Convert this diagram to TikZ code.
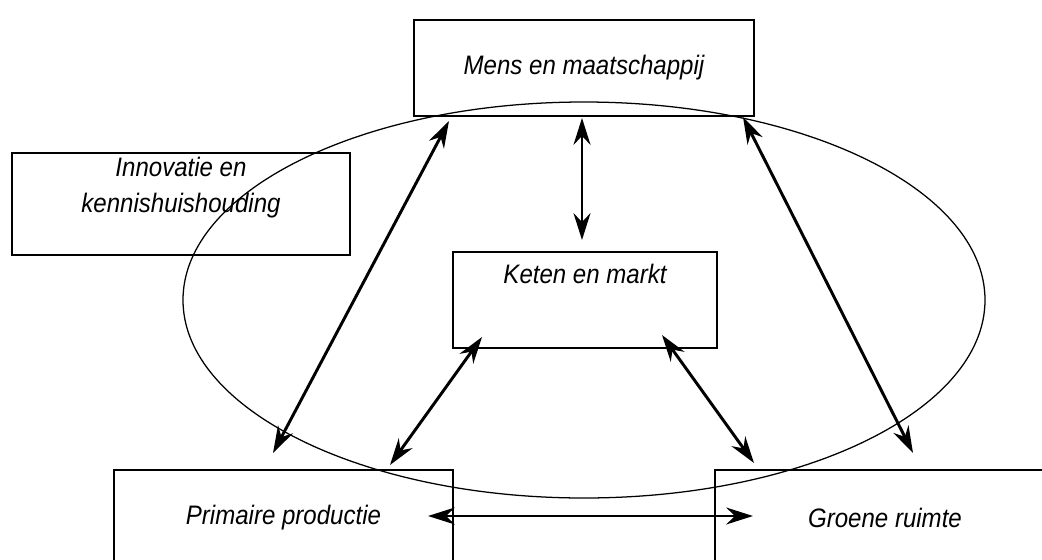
\documentclass[tikz,border=0pt]{standalone}
\usepackage{fontspec}
\setmainfont{Liberation Sans}[FakeStretch=0.9]
\usetikzlibrary{arrows.meta}
\tikzset{
	box/.style={draw, line width=0.8pt, minimum height=2.4cm, inner sep=0pt},
	txt/.style={font=\itshape\fontsize{19}{25.6}\selectfont, align=center, inner sep=0pt},
	link/.style={{Stealth[length=19pt,width=12pt]}-{Stealth[length=19pt,width=12pt]}, line width=2.1pt}
}

\begin{document}
\begin{tikzpicture}[x=0.025cm, y=-0.025cm]
	\useasboundingbox (0,0) rectangle (1042,560);
	\clip (0,0) rectangle (1042,560);
	% the ellipse behind everything
	\draw [ line width=0.9pt ] (584,300) ellipse [ x radius=401, y radius=198 ];
	\node [ box, txt, minimum width=8.5cm ] (1) at (584,68)
		{Mens en maatschappij};
	\node [ box, minimum width=8.45cm, minimum height=2.55cm ] (2) at (181,204) {};
	\node [ txt, anchor=north ] (2t) at (181,157)
		{Innovatie en\\kennishuishouding};
	\node [ box, minimum width=6.6cm ] (3) at (585,300) {};
	\node [ txt, anchor=north ] (3t) at (585,264)
		{Keten en markt};
	\node [ box, txt, minimum width=8.475cm ] (4) at (283.5,518)
		{Primaire productie};
	\node [ box, txt, minimum width=8.5cm ] (5) at (885,518)
		{Groene ruimte};
	% arrow ends
	\coordinate (a1) at (582,118);
	\coordinate (a2) at (582,240);
	\coordinate (b1) at (449,121);
	\coordinate (b2) at (273,453);
	\coordinate (c1) at (743,117);
	\coordinate (c2) at (913,453);
	\coordinate (d1) at (482,337);
	\coordinate (d2) at (390,465);
	\coordinate (e1) at (662,335);
	\coordinate (e2) at (754,463);
	\coordinate (f1) at (428,516);
	\coordinate (f2) at (753,516);
	\draw [ link ] (a1) to (a2);
	\draw [ link ] (b1) to (b2);
	\draw [ link ] (c1) to (c2);
	\draw [ link ] (d1) to (d2);
	\draw [ link ] (e1) to (e2);
	\draw [ link ] (f1) to (f2);
\end{tikzpicture}
\end{document}
